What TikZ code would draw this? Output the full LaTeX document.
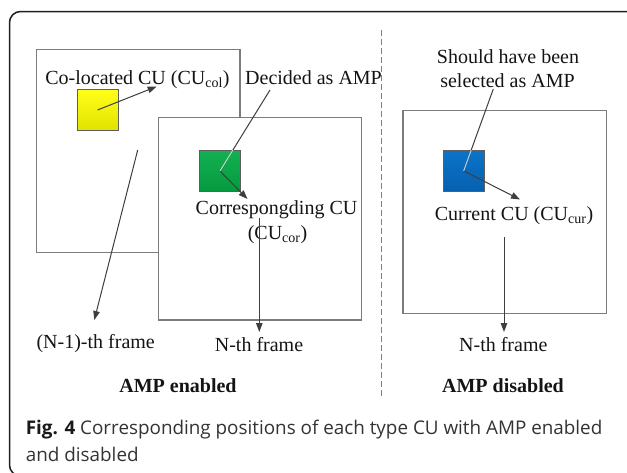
\documentclass[tikz,border=0pt]{standalone}
\usepackage{fontspec}
\setmainfont{Liberation Serif}
\newfontfamily\capfont{Open Sans}
\usetikzlibrary{arrows.meta}
\definecolor{boxgray}{HTML}{7C7C7C}
\definecolor{arrgray}{HTML}{3E3E3E}
\definecolor{sqedge}{HTML}{5E5E5E}
\definecolor{ytop}{HTML}{FFFF1A}
\definecolor{ybot}{HTML}{E2E200}
\definecolor{gtop}{HTML}{12B050}
\definecolor{gbot}{HTML}{079A40}
\definecolor{btop}{HTML}{0B74C8}
\definecolor{bbot}{HTML}{0760B0}
\definecolor{captext}{HTML}{333333}
\tikzset{
  outerframe/.style={draw=black!88, line width=1.5pt, rounded corners=11pt},
  framebox/.style={draw=boxgray, line width=1.2pt, fill=white, inner sep=0pt, anchor=north west},
  cubox/.style={draw=sqedge, line width=0.9pt, minimum width=41pt, minimum height=41pt, inner sep=0pt, anchor=north west},
  conn/.style={draw=arrgray, line width=1pt},
  arr/.style={conn, -{Triangle[length=9pt,width=6.5pt]}},
  glint/.style={line width=1pt},
  lbl/.style={font=\fontsize{20}{24}\selectfont, inner sep=0pt, anchor=base, text=black!92},
  blbl/.style={lbl, font=\fontsize{20}{24}\selectfont\bfseries},
  capstyle/.style={font=\fontsize{18.85}{24}\selectfont\capfont, inner sep=0pt, anchor=base west, text=captext},
  divider/.style={draw=black!50, line width=1.1pt, dash pattern=on 5.5pt off 3.5pt}
}
\begin{document}
\begin{tikzpicture}[x=1pt,y=-1pt]
\clip (0,0) rectangle (627,472);
% outer frame (partly outside the picture)
\draw[outerframe] (9.5,11.5) rectangle (640,476);

% frames
\node[framebox, minimum width=203.3pt, minimum height=203.3pt] (fprev) at (36,48.7) {};
\node[framebox, minimum width=203.3pt, minimum height=202.6pt] (fcur) at (157.7,116.7) {};
\node[framebox, minimum width=203.7pt, minimum height=202.7pt] (fright) at (402.3,110) {};

% coding units
\node[cubox, top color=ytop, bottom color=ybot] (ycu) at (76.7,89) {};
\node[cubox, top color=gtop, bottom color=gbot] (gcu) at (199,150) {};
\node[cubox, top color=btop, bottom color=bbot] (bcu) at (442.7,150) {};

% divider
\draw[divider] (381.7,30) -- (381.7,398);

% labels
\node[lbl] (lcol) at (137.5,84) {Co-located CU (CU\textsubscript{col})};
\node[lbl, anchor=base west] (ldec) at (245,84) {Decided as AMP};
\node[lbl] (lcor1) at (276.5,214) {Correspongding CU};
\node[lbl] (lcor2) at (277.5,239) {(CU\textsubscript{cor})};
\node[lbl] (lshould1) at (508,63) {Should have been};
\node[lbl] (lshould2) at (507.5,87) {selected as AMP};
\node[lbl] (lcur) at (514,220) {Current CU (CU\textsubscript{cur})};
\node[lbl] (lprev) at (95.7,348) {(N-1)-th frame};
\node[lbl] (lnth) at (259,351) {N-th frame};
\node[lbl] (lnth2) at (503.3,351) {N-th frame};
\node[blbl] (lena) at (178,392) {AMP enabled};
\node[blbl] (ldis) at (503,392) {AMP disabled};

% connector end points
\coordinate (ytip) at (156.7,86.5);
\coordinate (prevstart) at (137.7,150);
\coordinate (prevtip) at (94.3,320);
\coordinate (decfoot) at (270,90);
\coordinate (gtip) at (247.5,199);
\coordinate (corstart) at (259.3,218);
\coordinate (ntip) at (259.3,332);
\coordinate (shouldfoot) at (493.3,89);
\coordinate (btip) at (520,199.5);
\coordinate (curstart) at (504,237);
\coordinate (ntip2) at (504,332);

% connectors
\draw[arr] (ycu.center) -- (ytip);
\draw[arr] (prevstart) -- (prevtip);
\draw[arr] (decfoot) -- (gcu.center) -- (gtip);
\draw[arr] (corstart) -- (ntip);
\draw[arr] (shouldfoot) -- (bcu.center) -- (btip);
\draw[arr] (curstart) -- (ntip2);

% light glints where the pointer lines cross the coloured squares
\begin{scope}
  \clip (gcu.south west) rectangle (gcu.north east);
  \draw[glint, draw=white!70!gtop] (decfoot) -- (gcu.center);
\end{scope}
\begin{scope}
  \clip (bcu.south west) rectangle (bcu.north east);
  \draw[glint, draw=white!70!btop] (shouldfoot) -- (bcu.center);
\end{scope}

% caption
\node[capstyle] (cap1) at (25.7,434) {{\bfseries\color{black!90}Fig. 4} Corresponding positions of each type CU with AMP enabled};
\node[capstyle] (cap2) at (25.7,461) {and disabled};
\end{tikzpicture}
\end{document}
